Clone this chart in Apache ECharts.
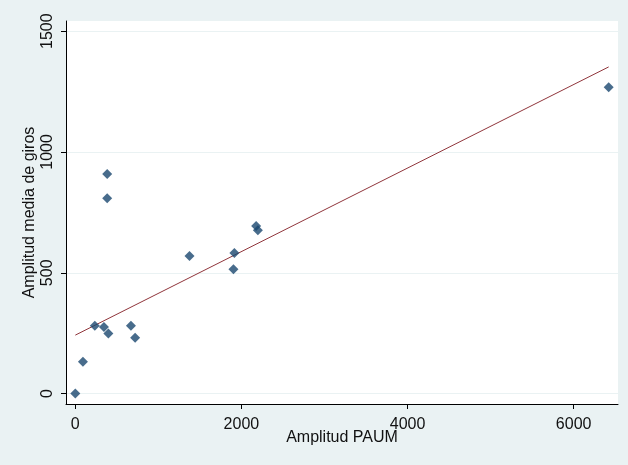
<!DOCTYPE html>
<html>
<head>
<meta charset="utf-8">
<script src="https://cdn.jsdelivr.net/npm/echarts@6/dist/echarts.min.js"></script>
<style>
  html, body { margin: 0; padding: 0; background: #eaf2f3; }
  #chart { width: 628px; height: 465px; }
</style>
</head>
<body>
<div id="chart"></div>
<script>
// Amplitud PAUM vs Amplitud media de giros
const paum = [0, 92, 235, 345, 398, 384, 384, 670, 720, 1375, 1915, 1904, 2177, 2198, 6422]
const giros = [0, 132, 281, 276, 249, 909, 808, 281, 231, 569, 582, 515, 694, 676, 1268]
const fitLine = [[0, 242], [6422, 1352]]
const xTicks = [0, 2000, 4000, 6000]
const yTicks = [0, 500, 1000, 1500]

const chart = echarts.init(document.getElementById('chart'), null, { renderer: 'canvas' })

const font = 'Liberation Sans, Arial, sans-serif'
const axisLine = { show: true, onZero: false, lineStyle: { color: '#000', width: 1 } }
const plain = v => String(v)

chart.setOption({
  backgroundColor: '#eaf2f3',
  animation: false,
  grid: {
    left: 66, right: 10, top: 21, bottom: 61,
    show: true, backgroundColor: '#fff', borderWidth: 0
  },
  xAxis: {
    type: 'value',
    min: -112, max: 6534,
    name: 'Amplitud PAUM',
    nameLocation: 'middle',
    nameGap: 26,
    nameMoveOverlap: false,
    nameTextStyle: { color: '#111', fontSize: 16, fontFamily: font },
    axisLine,
    axisTick: { show: true, length: 5, customValues: xTicks, lineStyle: { color: '#000' } },
    axisLabel: { customValues: xTicks, formatter: plain, color: '#111', fontSize: 16, fontFamily: font, margin: 13 },
    splitLine: { show: false }
  },
  yAxis: {
    type: 'value',
    min: -43, max: 1542,
    name: 'Amplitud media de giros',
    nameLocation: 'middle',
    nameGap: 28,
    nameMoveOverlap: false,
    nameTextStyle: { color: '#111', fontSize: 16, fontFamily: font },
    axisLine,
    axisTick: { show: true, length: 5, customValues: yTicks, lineStyle: { color: '#000' } },
    axisLabel: { customValues: yTicks, formatter: plain, rotate: 90, color: '#111', fontSize: 16, fontFamily: font, margin: 10 },
    splitLine: { show: true, lineStyle: { color: '#eaf2f3', width: 1 } }
  },
  series: [
    {
      type: 'line',
      data: fitLine,
      showSymbol: false,
      lineStyle: { color: '#90353b', width: 1 },
      z: 3
    },
    {
      type: 'scatter',
      data: paum.map((x, i) => [x, giros[i]]),
      symbol: 'diamond',
      symbolSize: 10,
      itemStyle: { color: '#1a476f' },
      z: 4
    }
  ]
})
</script>
</body>
</html>
